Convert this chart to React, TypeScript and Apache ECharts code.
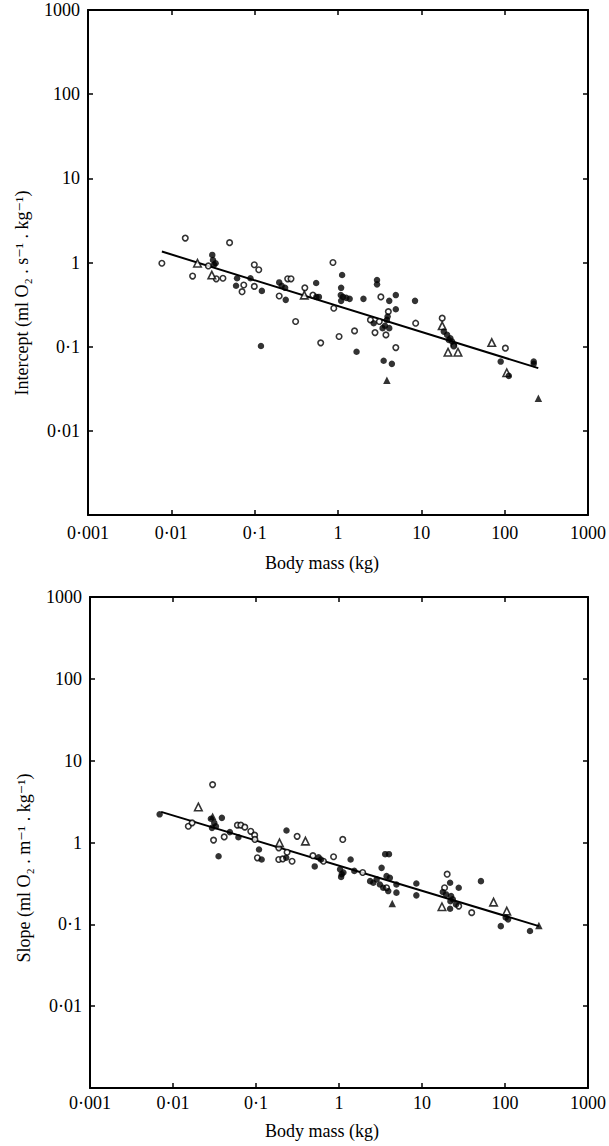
import React, { useEffect, useRef } from "react";
import * as echarts from "echarts";

// ---------- tick labels ----------
const tickLabels = ["0·001", "0·01", "0·1", "1", "10", "100", "1000"];
const yTickLabels = ["", "0·01", "0·1", "1", "10", "100", "1000"];

// ---------- axis titles ----------
const xTitle = "Body mass (kg)";
const yTitleTop = "Intercept (ml O\u2082 . s\u207B\u00B9 . kg\u207B\u00B9)";
const yTitleBottom = "Slope (ml O\u2082 . m\u207B\u00B9 . kg\u207B\u00B9)";

// ---------- top panel (intercept) ----------
const topOpenCircles: [number, number][] = [
  [0.0077, 0.98], [0.0147, 1.95], [0.018, 0.69], [0.0278, 0.91], [0.0346, 0.64],
  [0.0416, 0.65], [0.05, 1.72], [0.074, 0.54], [0.0706, 0.45], [0.099, 0.94],
  [0.112, 0.82], [0.099, 0.52], [0.249, 0.64], [0.273, 0.64], [0.197, 0.4],
  [0.31, 0.199], [0.4, 0.5], [0.5, 0.41], [0.62, 0.111], [0.89, 0.286],
  [1.03, 0.132], [0.87, 1.0], [1.58, 0.154], [3.27, 0.39], [2.45, 0.208],
  [3.13, 0.199], [2.78, 0.147], [4.02, 0.261], [3.76, 0.138], [4.94, 0.0975],
  [8.55, 0.19], [17.8, 0.218], [24.5, 0.102], [102, 0.096],
];
const topFilledCircles: [number, number][] = [
  [0.031, 1.23], [0.0316, 1.07], [0.0325, 0.94], [0.034, 0.98], [0.0615, 0.65],
  [0.0598, 0.53], [0.089, 0.65], [0.122, 0.46], [0.197, 0.58], [0.211, 0.53],
  [0.232, 0.5], [0.236, 0.36], [0.119, 0.102], [0.547, 0.57], [0.55, 0.39],
  [0.59, 0.39], [1.12, 0.71], [1.09, 0.5], [1.08, 0.41], [1.15, 0.39],
  [1.26, 0.38], [1.38, 0.37], [1.09, 0.35], [1.67, 0.087], [2.02, 0.37],
  [2.94, 0.55], [2.94, 0.62], [4.12, 0.35], [4.94, 0.41], [4.94, 0.278],
  [2.68, 0.19], [3.43, 0.166], [3.66, 0.177], [3.86, 0.208], [3.94, 0.228],
  [4.12, 0.166], [3.53, 0.068], [4.43, 0.0625], [8.4, 0.35], [18.6, 0.151],
  [20.4, 0.138], [21.4, 0.12], [22.3, 0.126], [23.4, 0.115], [24.5, 0.105],
  [89.6, 0.0665], [112, 0.045], [223, 0.0665], [223, 0.0625],
];
const topOpenTriangles: [number, number][] = [
  [0.0206, 0.98], [0.0306, 0.71], [0.394, 0.41], [17.8, 0.177], [20.9, 0.086],
  [27.5, 0.086], [70, 0.112], [106, 0.049],
];
const topFilledTriangles: [number, number][] = [
  [3.86, 0.04], [254, 0.0244],
];
const topFitLine: [number, number][] = [[0.0077, 1.35], [253, 0.0556]];

// ---------- bottom panel (slope) ----------
const bottomOpenCircles: [number, number][] = [
  [0.03, 5.1], [0.0153, 1.58], [0.017, 1.74], [0.0308, 1.07], [0.0414, 1.17],
  [0.0597, 1.63], [0.0656, 1.63], [0.0733, 1.54], [0.0865, 1.37], [0.0964, 1.23],
  [0.097, 1.09], [0.104, 0.65], [0.188, 0.86], [0.313, 1.19], [0.237, 0.76],
  [0.188, 0.62], [0.21, 0.63], [0.272, 0.59], [0.485, 0.69], [0.65, 0.59],
  [0.86, 0.67], [1.11, 1.09], [1.93, 0.43], [3.74, 0.28], [20.1, 0.41],
  [18.7, 0.28], [27.7, 0.167], [39.7, 0.139],
];
const bottomFilledCircles: [number, number][] = [
  [0.0069, 2.21], [0.0286, 1.95], [0.0314, 1.74], [0.0295, 1.51], [0.0329, 1.58],
  [0.0388, 2.0], [0.0354, 0.68], [0.0484, 1.34], [0.0614, 1.16], [0.1087, 0.82],
  [0.117, 0.62], [0.233, 1.4], [0.231, 0.65], [0.51, 0.51], [0.568, 0.66],
  [0.605, 0.62], [1.38, 0.62], [1.03, 0.47], [1.08, 0.41], [1.13, 0.43],
  [1.06, 0.38], [1.53, 0.45], [3.26, 0.49], [3.6, 0.72], [4.0, 0.72],
  [2.37, 0.337], [2.59, 0.322], [2.84, 0.354], [3.11, 0.307], [3.41, 0.28],
  [3.74, 0.388], [4.1, 0.37], [3.92, 0.255], [4.92, 0.307], [4.92, 0.244],
  [8.55, 0.316], [8.55, 0.226], [21.8, 0.322], [17.8, 0.248], [19.5, 0.232],
  [22.4, 0.222], [23.5, 0.202], [22.0, 0.192], [27.7, 0.28], [21.8, 0.155],
  [25.7, 0.175], [51.3, 0.337], [102, 0.121], [109, 0.115], [89, 0.095],
  [200, 0.083],
];
const bottomOpenTriangles: [number, number][] = [
  [0.0202, 2.72], [0.192, 0.99], [0.394, 1.04], [17.4, 0.164], [72.8, 0.187],
  [105, 0.145],
];
const bottomFilledTriangles: [number, number][] = [
  [0.03, 2.1], [4.38, 0.18], [256, 0.097],
];
const bottomFitLine: [number, number][] = [[0.0072, 2.37], [256, 0.095]];

const FONT = "'Liberation Serif', 'DejaVu Serif', serif";

const fmtX = (v: number) => tickLabels[Math.round(Math.log10(v)) + 3] ?? "";
const fmtY = (v: number) => yTickLabels[Math.round(Math.log10(v)) + 3] ?? "";

const commonAxis = {
  type: "log" as const,
  logBase: 10,
  min: 0.001,
  max: 1000,
  axisLine: { show: true, onZero: false, lineStyle: { color: "#000", width: 2 } },
  axisTick: { show: true, inside: true, length: 5, lineStyle: { color: "#000", width: 1.5 } },
  minorTick: { show: false },
  splitLine: { show: false },
  minorSplitLine: { show: false },
};

function makeX(gi: number, labelMargin: number) {
  return [
    {
      ...commonAxis,
      gridIndex: gi,
      position: "bottom",
      axisLabel: { formatter: fmtX, fontFamily: FONT, fontSize: 18, color: "#000", margin: labelMargin },
    },
    { ...commonAxis, gridIndex: gi, position: "top", axisLabel: { show: false } },
  ];
}

function makeY(gi: number) {
  return [
    {
      ...commonAxis,
      gridIndex: gi,
      position: "left",
      axisLabel: { formatter: fmtY, fontFamily: FONT, fontSize: 18, color: "#000", margin: 8 },
    },
    { ...commonAxis, gridIndex: gi, position: "right", axisLabel: { show: false } },
  ];
}

function panelSeries(
  axisIdx: number,
  openC: [number, number][],
  fillC: [number, number][],
  openT: [number, number][],
  fillT: [number, number][],
  fit: [number, number][]
) {
  const base = { xAxisIndex: axisIdx, yAxisIndex: axisIdx, silent: true };
  return [
    {
      ...base,
      type: "line",
      data: fit,
      showSymbol: false,
      symbol: "none",
      lineStyle: { color: "#000", width: 2 },
      z: 2,
    },
    {
      ...base,
      type: "scatter",
      data: openC,
      symbol: "circle",
      symbolSize: 5.5,
      itemStyle: { color: "#fff", borderColor: "#000", borderWidth: 1.6 },
      z: 3,
    },
    {
      ...base,
      type: "scatter",
      data: openT,
      symbol: "triangle",
      symbolSize: 7.5,
      itemStyle: { color: "#fff", borderColor: "#000", borderWidth: 1.6 },
      z: 3,
    },
    {
      ...base,
      type: "scatter",
      data: fillC,
      symbol: "circle",
      symbolSize: 6.5,
      itemStyle: { color: "#000" },
      z: 4,
    },
    {
      ...base,
      type: "scatter",
      data: fillT,
      symbol: "triangle",
      symbolSize: 7.5,
      itemStyle: { color: "#000" },
      z: 4,
    },
  ];
}

export default function App() {
  const ref = useRef<HTMLDivElement>(null);
  useEffect(() => {
    document.body.style.margin = "0";
    const chart = echarts.init(ref.current!, null, { renderer: "svg" });
    const titleStyle = { fontFamily: FONT, fontSize: 18, fill: "#000", align: "center", verticalAlign: "middle" };
    chart.setOption({
      animation: false,
      backgroundColor: "#fff",
      grid: [
        { left: 88, top: 10, width: 504, height: 505 },
        { left: 90, top: 597, width: 501, height: 491 },
      ],
      xAxis: [...makeX(0, 9), ...makeX(1, 6)],
      yAxis: [...makeY(0), ...makeY(1)],
      series: [
        ...panelSeries(0, topOpenCircles, topFilledCircles, topOpenTriangles, topFilledTriangles, topFitLine),
        ...panelSeries(2, bottomOpenCircles, bottomFilledCircles, bottomOpenTriangles, bottomFilledTriangles, bottomFitLine),
      ],
      graphic: [
        { type: "text", x: 322, y: 563, style: { ...titleStyle, text: xTitle } },
        { type: "text", x: 322, y: 1131, style: { ...titleStyle, text: xTitle } },
        { type: "text", x: 22, y: 293, rotation: Math.PI / 2, style: { ...titleStyle, text: yTitleTop } },
        { type: "text", x: 24, y: 868, rotation: Math.PI / 2, style: { ...titleStyle, text: yTitleBottom } },
      ],
    });
    return () => chart.dispose();
  }, []);
  return <div ref={ref} style={{ width: 609, height: 1146 }} />;
}
